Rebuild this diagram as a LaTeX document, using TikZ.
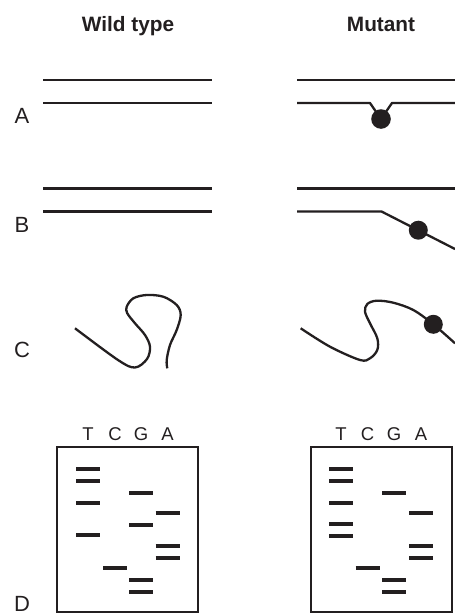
\documentclass[tikz,border=0pt]{standalone}
\usepackage{fontspec}
\setmainfont{Liberation Sans}
\begin{document}
\begin{tikzpicture}[x=1pt,y=-1pt,
  strand/.style={draw=inkc,line width=2.3pt,line join=round},
  lesion/.style={fill=inkc,draw=none},
  gelbox/.style={draw=inkc,line width=1.1pt},
  band/.style={draw=inkc,line width=3.4pt},
  coltitle/.style={text=inkc,font=\fontsize{20.8}{24}\selectfont\bfseries,anchor=base},
  rowlabel/.style={text=inkc,font=\fontsize{22}{26}\selectfont,anchor=base,inner sep=0pt},
  lane/.style={text=inkc,font=\fontsize{18.5}{22}\selectfont,anchor=base}]
\definecolor{inkc}{HTML}{231F20}
\useasboundingbox (0,0) rectangle (455,616);

% column headings
\node[coltitle] (wt) at (128,31.7) {Wild type};
\node[coltitle] (mu) at (381,31.7) {Mutant};

% row labels
\node[rowlabel] (la) at (22,123) {A};
\node[rowlabel] (lb) at (22,232) {B};
\node[rowlabel] (lc) at (22,357) {C};
\node[rowlabel] (ld) at (22,611) {D};

% A: intact duplex and duplex with a bulky adduct
\draw[strand] (43,80) -- (212,80);
\draw[strand] (43,103) -- (212,103);
\draw[strand] (297,80) -- (455,80);
\draw[strand] (297,103) -- (370,103) -- (381,119) -- (392,103) -- (455,103);
\fill[lesion] (381,119) circle (9.8);

% B: intact duplex and duplex with a kinked strand
\draw[strand] (43,188.5) -- (212,188.5);
\draw[strand] (43,211.5) -- (212,211.5);
\draw[strand] (297,188.5) -- (455,188.5);
\draw[strand] (297,211.5) -- (381.5,211.5) -- (455,249);
\fill[lesion] (418.3,230.2) circle (9.5);

% C: folded single strands
\draw[strand] plot[smooth,tension=0.55] coordinates {
  (75,328.3) (118,360) (135,367.5) (147,359) (150,346.7) (145,335)
  (135,323.3) (127.3,313.3) (126.7,306.7) (133.3,298.3) (146.7,295)
  (163.3,296.7) (176.7,305) (180.7,315) (176.7,330) (170,345)
  (166.7,360) (167.3,368.3)};
\draw[strand] plot[smooth,tension=0.55] coordinates {
  (300.7,328.3) (330,346.7) (360,360) (370,358.3) (377.3,350)
  (377.3,338.3) (370,323.3) (365,311.7) (367.3,304) (376.7,300.7)
  (393.3,302.7) (413.3,310) (433.3,324.3) (455,343.3)};
\fill[lesion] (433.3,324.3) circle (9.5);

% D: sequencing gels
\draw[gelbox] (57,447) rectangle (198,612);
\draw[gelbox] (311,447) rectangle (452,612);

\foreach \l/\x in {T/88,C/115,G/141,A/167.5}
  \node[lane] (w\l) at (\x,440) {\l};
\foreach \l/\x in {T/341,C/367.5,G/394,A/421}
  \node[lane] (m\l) at (\x,440) {\l};

% wild-type ladder
\foreach \x/\y in {88/469,88/481,88/503,88/535,
                   115/568,
                   141/493,141/525,141/580,141/592,
                   167.5/513,167.5/546,167.5/558}
  \draw[band] (\x-12,\y) -- (\x+12,\y);

% mutant ladder
\foreach \x/\y in {341/469,341/481,341/503,341/524,341/536,
                   367.5/568,
                   394/493,394/580,394/592,
                   421/513,421/546,421/558}
  \draw[band] (\x-12,\y) -- (\x+12,\y);
\end{tikzpicture}
\end{document}
